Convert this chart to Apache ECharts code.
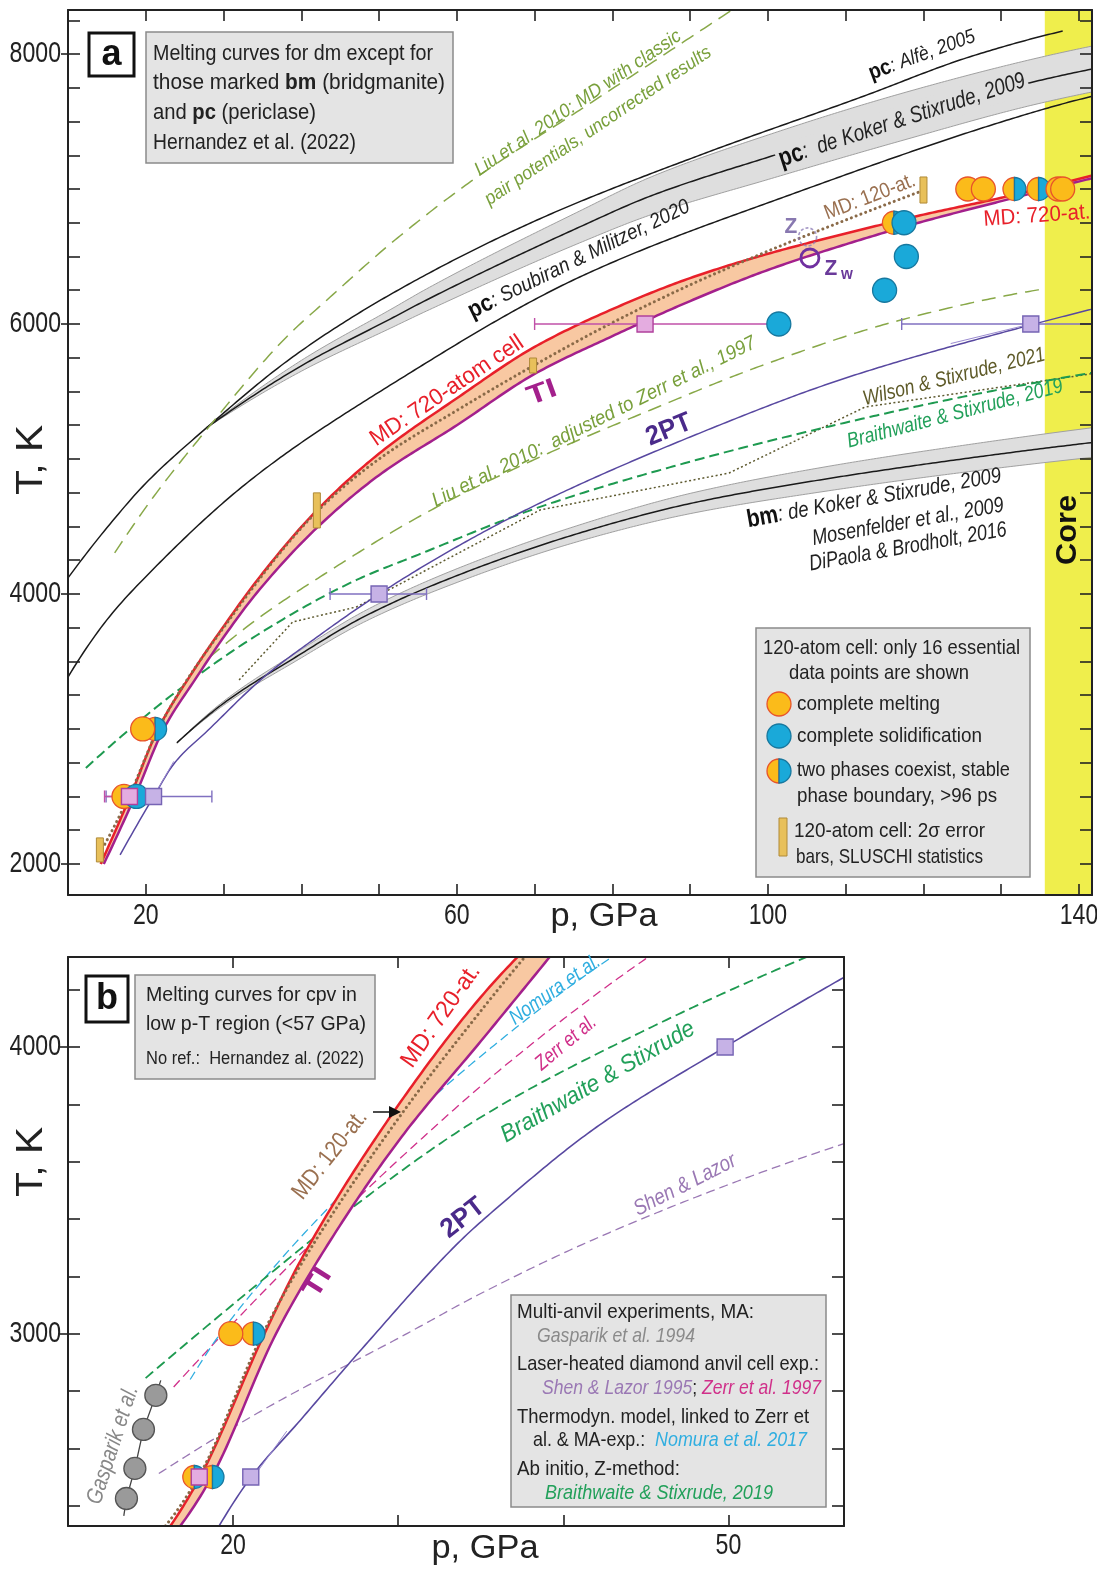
<!DOCTYPE html>
<html><head><meta charset="utf-8">
<script src="https://cdn.jsdelivr.net/npm/echarts@6/dist/echarts.min.js"></script>
<style>html,body{margin:0;padding:0;background:#fff}#c{width:1097px;height:1569px}</style>
</head><body><div id="c"></div>
<script>
// ---------------- axis ranges & ticks ----------------
const A_X_MIN = 10, A_X_MAX = 141.67, A_Y_MIN = 1770, A_Y_MAX = 8326;
const B_X_MIN = 10, B_X_MAX = 57, B_Y_MIN = 2329, B_Y_MAX = 4314;
const A_XTICKS = [20,30,40,50,60,70,80,90,100,110,120,130,140];
const A_XLABELS = [20,60,100,140];
const A_YTICKS = [2000,2250,2500,2750,3000,3250,3500,3750,4000,4250,4500,4750,5000,5250,5500,5750,6000,6250,6500,6750,7000,7250,7500,7750,8000,8250];
const A_YLABELS = [2000,4000,6000,8000];
const B_XTICKS = [20,30,40,50];
const B_XLABELS = [20,50];
const B_YTICKS = [2400,2600,2800,3000,3200,3400,3600,3800,4000,4200];
const B_YLABELS = [3000,4000];
const CORE_P = 135.6;

// ---------------- panel a curves [p (GPa), T (K)] ----------------
const A_ALFE = [[10,4119],[15,4490],[20,4820],[27.8,5230],[38.9,5756],[51.8,6230],[70.7,6780],[91.3,7252],[112,7681],[125.9,7978],[137.9,8170]];
const A_DK_MID = [[27.8,5230],[40,5690],[51.8,6048],[56.1,6178],[75.8,6719],[85,6950],[100.1,7237],[117,7530],[134.1,7793],[142.3,7896]];
const A_DK_UP  = [[27.8,5230],[40,5730],[51.8,6118],[56.1,6260],[75.8,6837],[85,7090],[100.1,7402],[117,7705],[134.1,7963],[142.3,8066]];
const A_DK_LO  = [[27.8,5230],[40,5650],[51.8,5978],[56.1,6096],[75.8,6601],[85,6810],[100.1,7072],[117,7355],[134.1,7623],[142.3,7726]];
const A_SOUB = [[10,3385],[15,3808],[19.6,4104],[33.5,4845],[51.8,5560],[75.8,6348],[102.8,6956],[136.4,7607],[142.3,7696]];
const A_LIU_CLASSIC = [[16,4304],[21,4720],[27.8,5215],[38.1,5904],[43.3,6178],[52,6620],[62.6,7089],[75.8,7585],[96,8350]];
const A_LIU_ADJ = [[26,3420],[34,3800],[42.5,4130],[56,4600],[70.7,5015],[85,5365],[99.1,5690],[117.1,6030],[135.5,6260]];
const A_BRAITH = [[12.3,2711],[24.2,3289],[35,3720],[47.1,4104],[55,4290],[70.7,4645],[90,4980],[109.8,5267],[125,5460],[142.3,5645]];
const A_WILSON = [[32,3363],[38.9,3793],[47.1,3904],[70.7,4622],[95,4896],[112.5,5385],[142.3,5637]];
const A_BM_MID = [[24,2897],[30,3190],[39.3,3533],[48,3830],[58.6,4104],[75.8,4452],[90,4670],[106.7,4845],[125,5000],[142.3,5126]];
const A_BM_UP  = [[24,2897],[30,3205],[39.3,3563],[48,3870],[58.6,4154],[75.8,4512],[90,4745],[106.7,4935],[125,5100],[142.3,5236]];
const A_BM_LO  = [[24,2897],[30,3175],[39.3,3503],[48,3790],[58.6,4054],[75.8,4392],[90,4595],[106.7,4755],[125,4900],[142.3,5016]];
const A_2PT = [[16.7,2067],[21,2497],[23.7,2748],[28,2990],[35.2,3385],[42,3680],[50,4000],[60,4350],[70.7,4674],[90,5163],[110,5600],[133.8,5993],[142.3,6119]];
const A_2PT_B1 = [[21.0,2500],[23.6,2760]];
const A_2PT_B2 = [[123.5,5855],[133.8,6000]];
const A_MD720 = [[14.2,2000],[18,2500],[21.6,3000],[26,3420],[30.5,3800],[34.3,4100],[42,4620],[50,5040],[60,5450],[70,5830],[80,6110],[90,6340],[100,6520],[110,6670],[120,6810],[130,6935],[141.7,7100]];
const A_TI = [[14.6,2000],[18.6,2500],[22.3,3000],[26.5,3380],[30.5,3720],[34.3,4010],[42,4490],[50,4880],[60,5250],[70,5630],[80,5910],[90,6170],[100,6400],[110,6590],[120,6760],[130,6910],[141.7,7080]];
const A_MD120 = [[14.1,2080],[18,2520],[21.6,3000],[30.5,3790],[42,4610],[50,5000],[60,5360],[69.8,5690],[80,6010],[90,6290],[100,6540],[110,6770],[120,6990]];
// panel a points
const A_MELT = [[17.2,2500],[19.6,3000],[125.7,7000],[127.7,7000],[137.3,7000],[137.9,7000]];
const A_TWO = [[21.2,3000],[116.2,6750],[131.7,7000],[134.8,7000]];
const A_SOLID = [[18.8,2500],[101.4,6000],[115.0,6250],[117.8,6500],[117.5,6750]];
const A_SQ_PINK = [[17.9,2500],[84.2,6000]];
const A_SQ_PURPLE = [[21.0,2500],[50.0,4000],[133.8,6000]];
const A_ERR_PINK = [[14.7,21.1,2500],[70.0,101.3,6000]];
const A_ERR_PURPLE = [[14.9,28.5,2500],[43.7,56.1,4000],[117.2,150,6000]];
const A_SLUSCHI = [[14.1,2015,2193],[42.0,4489,4749],[69.8,5637,5748],[120.0,6896,7089]];
const A_Z = [[105.1,6645]];
const A_ZW = [[105.4,6489]];

// ---------------- panel b curves ----------------
const B_MD720 = [[16.2,2329],[18.0,2500],[21.9,3000],[24.1,3256],[29.8,3780],[35,4174],[37.5,4330]];
const B_TI = [[16.8,2329],[18.7,2500],[22.6,3000],[25.9,3326],[30.2,3686],[35,4020],[39.4,4330]];
const B_MD120 = [[15.9,2329],[18.0,2510],[21.8,3000],[24.2,3250],[30,3750],[35.2,4140],[37.9,4330]];
const B_2PT = [[19.15,2329],[21.07,2498],[24.1,2700],[28,2960],[33.8,3326],[35.6,3420],[42,3720],[49.8,4000],[57,4243]];
const B_2PT_B = [[21.3,2505],[23.25,2660]];
const B_BRAITH = [[14.7,2845],[24.7,3325],[26.1,3390],[35,3755],[45,4060],[55,4320]];
const B_NOMURA = [[17.4,2840],[19.1,2990],[22.9,3260],[27,3515],[30.2,3720],[36,4015],[43.1,4320]];
const B_ZERR = [[16.4,2814],[23.9,3267],[30.2,3616],[37,3960],[45.3,4320]];
const B_SHEN = [[15.5,2512],[22,2740],[30.2,2990],[35,3140],[41.5,3320],[50,3520],[57,3663]];
const B_GASP_LINE = [[13.38,2364],[13.54,2425],[14.05,2530],[14.57,2666],[15.32,2785],[15.62,2837]];
const B_GASP = [[13.54,2425],[14.05,2530],[14.57,2666],[15.32,2785]];
const B_MELT = [[19.86,3000]];
const B_TWO = [[17.65,2500],[18.75,2500],[21.23,3000]];
const B_SQ_PINK = [[17.95,2500]];
const B_SQ_PURPLE = [[21.07,2500],[49.8,4000]];

// ---------------- styles ----------------
const FR = "'Liberation Sans', Arial, sans-serif";
const ORANGE = '#fbbb1a', ORANGE_E = '#e8542b', BLUE = '#1aa9d9', BLUE_E = '#17789f';
const RED = '#e8202a', TIC = '#a3208c', BROWN = '#8a6a48', P2 = '#5848a0';
const OLIVE = '#88a848', GREEN = '#1e9a50', WIL = '#5e5a30';
const PINK_F = '#e4ace0', PINK_E = '#b0409c', PUR_F = '#c6b2e6', PUR_E = '#7664b4';
const TAN_F = '#e8c05a', TAN_E = '#b08a38';

// monotone cubic (PCHIP) rendering of a polyline in pixel space
function endSlope(h0, h1, d0, d1) {
  let m = ((2 * h0 + h1) * d0 - h0 * d1) / (h0 + h1);
  if (Math.sign(m) !== Math.sign(d0)) m = 0;
  else if (Math.sign(d0) !== Math.sign(d1) && Math.abs(m) > Math.abs(3 * d0)) m = 3 * d0;
  return m;
}
function pchip(P) {
  const n = P.length;
  if (n < 3) return P.slice();
  const h = [], d = [];
  for (let k = 0; k < n - 1; k++) { h[k] = P[k + 1][0] - P[k][0]; d[k] = (P[k + 1][1] - P[k][1]) / h[k]; }
  const m = new Array(n);
  for (let k = 1; k < n - 1; k++) {
    if (d[k - 1] * d[k] <= 0) m[k] = 0;
    else { const w1 = 2 * h[k] + h[k - 1], w2 = h[k] + 2 * h[k - 1]; m[k] = (w1 + w2) / (w1 / d[k - 1] + w2 / d[k]); }
  }
  m[0] = endSlope(h[0], h[1], d[0], d[1]);
  m[n - 1] = endSlope(h[n - 2], h[n - 3], d[n - 2], d[n - 3]);
  const out = [];
  for (let k = 0; k < n - 1; k++) {
    const steps = Math.max(2, Math.ceil(h[k] / 3));
    for (let s = 0; s < steps; s++) {
      const t = s / steps, t2 = t * t, t3 = t2 * t;
      const y = (2 * t3 - 3 * t2 + 1) * P[k][1] + (t3 - 2 * t2 + t) * h[k] * m[k] + (-2 * t3 + 3 * t2) * P[k + 1][1] + (t3 - t2) * h[k] * m[k + 1];
      out.push([P[k][0] + t * h[k], y]);
    }
  }
  out.push(P[n - 1]);
  return out;
}
function anchorOf(xi) { return xi === 0 ? [30, 5000] : [20, 3000]; }
function curve(data, stroke, width, dash, xi, yi, z, opts) {
  opts = opts || {};
  return {
    type: 'custom', xAxisIndex: xi, yAxisIndex: yi, z, silent: true, clip: true, data: [anchorOf(xi)],
    renderItem: (params, api) => {
      const px = data.map(d => api.coord(d));
      const pts = opts.straight ? px : pchip(px);
      return { type: 'polyline', shape: { points: pts },
        style: { stroke, lineWidth: width, lineDash: dash || null, lineCap: opts.cap || 'butt', lineJoin: 'round', fill: null } };
    }
  };
}
function band(up, lo, fill, stroke, xi, yi, z) {
  return {
    type: 'custom', xAxisIndex: xi, yAxisIndex: yi, z, silent: true, clip: true, data: [anchorOf(xi)],
    renderItem: (params, api) => {
      const u = pchip(up.map(d => api.coord(d)));
      const l = pchip(lo.map(d => api.coord(d)));
      return { type: 'polygon', shape: { points: u.concat(l.reverse()) },
        style: { fill, stroke: stroke || null, lineWidth: 1 } };
    }
  };
}
function scatter(data, symbol, size, fill, stroke, bw, xi, yi, z, extra) {
  return Object.assign({
    type: 'scatter', data, symbol, symbolSize: size, xAxisIndex: xi, yAxisIndex: yi, z, silent: true,
    itemStyle: { color: fill, borderColor: stroke, borderWidth: bw, opacity: 1 }
  }, extra || {});
}
function halves(cx, cy, r) {
  return [
    { type: 'sector', shape: { cx, cy, r, r0: 0, startAngle: Math.PI / 2, endAngle: Math.PI * 1.5, clockwise: true },
      style: { fill: ORANGE, stroke: ORANGE_E, lineWidth: 1.3 } },
    { type: 'sector', shape: { cx, cy, r, r0: 0, startAngle: -Math.PI / 2, endAngle: Math.PI / 2, clockwise: true },
      style: { fill: BLUE, stroke: BLUE_E, lineWidth: 1.3 } }
  ];
}
function twoPhase(data, xi, yi, z) {
  return {
    type: 'custom', xAxisIndex: xi, yAxisIndex: yi, z, silent: true, data, encode: { x: 0, y: 1 },
    renderItem: (params, api) => {
      const c = api.coord([api.value(0), api.value(1)]);
      return { type: 'group', children: halves(c[0], c[1], 11.5) };
    }
  };
}
function errBars(data, color, xi, yi, z) {
  return {
    type: 'custom', xAxisIndex: xi, yAxisIndex: yi, z, silent: true, clip: true, data,
    dimensions: ['lo', 'hi', 't'], encode: { x: [0, 1], y: 2 },
    renderItem: (params, api) => {
      const a = api.coord([api.value(0), api.value(2)]);
      const b = api.coord([api.value(1), api.value(2)]);
      const st = { stroke: color, lineWidth: 1.4 };
      return { type: 'group', children: [
        { type: 'line', shape: { x1: a[0], y1: a[1], x2: b[0], y2: b[1] }, style: st },
        { type: 'line', shape: { x1: a[0], y1: a[1] - 6, x2: a[0], y2: a[1] + 6 }, style: st },
        { type: 'line', shape: { x1: b[0], y1: b[1] - 6, x2: b[0], y2: b[1] + 6 }, style: st }
      ] };
    }
  };
}
function sluschi(data, xi, yi, z) {
  return {
    type: 'custom', xAxisIndex: xi, yAxisIndex: yi, z, silent: true, data,
    dimensions: ['p', 'lo', 'hi'], encode: { x: 0, y: [1, 2] },
    renderItem: (params, api) => {
      const a = api.coord([api.value(0), api.value(2)]);
      const b = api.coord([api.value(0), api.value(1)]);
      return { type: 'rect', shape: { x: a[0] - 3.5, y: a[1], width: 7, height: b[1] - a[1] },
        style: { fill: TAN_F, stroke: TAN_E, lineWidth: 1 } };
    }
  };
}

// ---------------- axes ----------------
const AXL = { color: '#222', width: 2 };
function xAx(grid, pos, min, max, ticks) {
  return {
    type: 'value', gridIndex: grid, position: pos, min, max, z: 20,
    axisLine: { show: true, onZero: false, lineStyle: AXL },
    axisTick: { show: true, inside: true, length: 11, customValues: ticks, lineStyle: { color: '#222', width: 1.6 } },
    axisLabel: { show: false }, splitLine: { show: false }
  };
}
function yAx(grid, pos, min, max, ticks, inside, len, showLine) {
  return {
    type: 'value', gridIndex: grid, position: pos, min, max, z: 20,
    axisLine: { show: showLine, onZero: false, lineStyle: AXL },
    axisTick: { show: true, inside, length: len, customValues: ticks, lineStyle: { color: '#222', width: 1.6 } },
    axisLabel: { show: false }, splitLine: { show: false }
  };
}

// ---------------- series ----------------
const series = [];
series.push({
  type: 'custom', xAxisIndex: 0, yAxisIndex: 0, z: 0, silent: true, clip: true, data: [[CORE_P, 5000]],
  renderItem: (params, api) => {
    const a = api.coord([CORE_P, A_Y_MAX]); const b = api.coord([A_X_MAX, A_Y_MIN]);
    return { type: 'rect', shape: { x: a[0], y: a[1], width: b[0] - a[0], height: b[1] - a[1] }, style: { fill: '#efee4c' } };
  }
});
series.push(band(A_DK_UP, A_DK_LO, '#dedede', '#a0a0a0', 0, 0, 1));
series.push(band(A_BM_UP, A_BM_LO, '#dedede', '#a0a0a0', 0, 0, 1));
series.push(curve(A_ALFE, '#1a1a1a', 1.5, null, 0, 0, 2));
series.push(curve(A_DK_MID, '#1a1a1a', 1.5, null, 0, 0, 2));
series.push(curve(A_SOUB, '#1a1a1a', 1.5, null, 0, 0, 2));
series.push(curve(A_BM_MID, '#1a1a1a', 1.5, null, 0, 0, 2));
series.push(curve(A_LIU_CLASSIC, OLIVE, 1.5, [14, 8], 0, 0, 3));
series.push(curve(A_LIU_ADJ, OLIVE, 1.5, [14, 8], 0, 0, 3));
series.push(curve(A_WILSON, WIL, 1.5, [2, 2.5], 0, 0, 3, { straight: true }));
series.push(curve(A_BRAITH, GREEN, 2, [10, 5], 0, 0, 3));
series.push(curve(A_2PT, P2, 1.5, null, 0, 0, 3));
series.push(curve(A_2PT_B1, '#9a8ad0', 1, null, 0, 0, 3, { straight: true }));
series.push(curve(A_2PT_B2, '#9a8ad0', 1, null, 0, 0, 3, { straight: true }));
series.push(band(A_MD720, A_TI, '#f8c8a2', null, 0, 0, 4));
series.push(curve(A_MD720, RED, 2.5, null, 0, 0, 5));
series.push(curve(A_TI, TIC, 2.5, null, 0, 0, 5));
series.push(curve(A_MD120, BROWN, 3, [0.1, 5], 0, 0, 6, { cap: 'round' }));
series.push(errBars(A_ERR_PURPLE, '#8070c0', 0, 0, 7));
series.push(errBars(A_ERR_PINK, '#c050a8', 0, 0, 7));
series.push(sluschi(A_SLUSCHI, 0, 0, 8));
series.push(scatter(A_MELT, 'circle', 24, ORANGE, ORANGE_E, 1.3, 0, 0, 9));
series.push(twoPhase(A_TWO, 0, 0, 9));
series.push(scatter(A_SOLID, 'circle', 24, BLUE, BLUE_E, 1.3, 0, 0, 9));
series.push(scatter(A_SQ_PINK, 'rect', 16, PINK_F, PINK_E, 1.4, 0, 0, 10));
series.push(scatter(A_SQ_PURPLE, 'rect', 16, PUR_F, PUR_E, 1.4, 0, 0, 10));
series.push(scatter(A_Z, 'circle', 18, 'rgba(0,0,0,0)', '#9080b8', 1.6, 0, 0, 10,
  { itemStyle: { color: 'rgba(0,0,0,0)', borderColor: '#9080b8', borderWidth: 1.6, borderType: [3, 2] } }));
series.push(scatter(A_ZW, 'circle', 18, 'rgba(0,0,0,0)', '#7030a0', 2.8, 0, 0, 10));

// panel b
series.push(curve(B_SHEN, '#9a78b4', 1.3, [9, 5], 2, 3, 3));
series.push(curve(B_ZERR, '#d0308a', 1.3, [9, 5], 2, 3, 3));
series.push(curve(B_NOMURA, '#30aee0', 1.3, [9, 5], 2, 3, 3));
series.push(curve(B_BRAITH, GREEN, 1.8, [10, 5], 2, 3, 3));
series.push(curve(B_2PT, P2, 1.6, null, 2, 3, 3));
series.push(curve(B_2PT_B, '#9a8ad0', 1, null, 2, 3, 3, { straight: true }));
series.push(band(B_MD720, B_TI, '#f8c8a2', null, 2, 3, 4));
series.push(curve(B_MD720, RED, 2.5, null, 2, 3, 5));
series.push(curve(B_TI, TIC, 2.5, null, 2, 3, 5));
series.push(curve(B_MD120, BROWN, 3, [0.1, 5], 2, 3, 6, { cap: 'round' }));
series.push(curve(B_GASP_LINE, '#444', 1.3, null, 2, 3, 6, { straight: true }));
series.push(scatter(B_GASP, 'circle', 22, '#9a9a9a', '#555', 1.3, 2, 3, 9));
series.push(scatter(B_MELT, 'circle', 24, ORANGE, ORANGE_E, 1.3, 2, 3, 9));
series.push(twoPhase(B_TWO, 2, 3, 9));
series.push(scatter(B_SQ_PINK, 'rect', 16, PINK_F, PINK_E, 1.4, 2, 3, 10));
series.push(scatter(B_SQ_PURPLE, 'rect', 16, PUR_F, PUR_E, 1.4, 2, 3, 10));

// ---------------- annotations ----------------
const MC = document.createElement('canvas').getContext('2d');
function fontStr(s) { return (s.italic ? 'italic ' : 'normal ') + (s.bold ? 'bold ' : 'normal ') + s.size + 'px ' + (s.family || FR); }
function label(x, y, rot, segs, o) {
  o = o || {};
  let text = '', total = 0; const rich = {};
  segs.forEach((s, i) => {
    const key = 's' + i;
    rich[key] = { fontSize: s.size, fontFamily: s.family || FR, fontWeight: s.bold ? 'bold' : 'normal',
      fontStyle: s.italic ? 'italic' : 'normal', fill: s.color || '#222' };
    text += '{' + key + '|' + s.t + '}';
    MC.font = fontStr(s); total += MC.measureText(s.t).width;
  });
  const sx = o.w ? o.w / total : (o.sx || 1);
  const st = { text, rich, align: o.align || 'center', verticalAlign: 'middle' };
  if (o.bg) { st.backgroundColor = o.bg; st.padding = [1, 3]; }
  return { type: 'text', x, y, rotation: rot * Math.PI / 180, scaleX: sx, z: 100, silent: true, style: st };
}
function T1(x, y, rot, t, size, w, o) {
  o = o || {};
  return label(x, y, rot, [{ t, size, bold: o.bold, italic: o.italic, color: o.color }], { w, align: o.align, sx: o.sx, bg: o.bg });
}
function box(x, y, w, h) {
  return { type: 'rect', z: 99, silent: true, shape: { x, y, width: w, height: h }, style: { fill: '#e4e4e4', stroke: '#8a8a8a', lineWidth: 1.5 } };
}
const g = [];
g.push({ type: 'rect', z: 99, silent: true, shape: { x: 89, y: 33, width: 45, height: 43 }, style: { fill: '#fff', stroke: '#111', lineWidth: 3 } });
g.push(T1(111.5, 55, 0, 'a', 36, null, { bold: true, color: '#111' }));
g.push(box(146, 32, 307, 131));
g.push(T1(153, 54, 0, 'Melting curves for dm except for', 22, 280, { align: 'left' }));
g.push(label(153, 83, 0, [{ t: 'those marked ', size: 22 }, { t: 'bm', size: 22, bold: true }, { t: ' (bridgmanite)', size: 22 }], { w: 292, align: 'left' }));
g.push(label(153, 113, 0, [{ t: 'and ', size: 22 }, { t: 'pc', size: 22, bold: true }, { t: ' (periclase)', size: 22 }], { w: 163, align: 'left' }));
g.push(T1(153, 143, 0, 'Hernandez et al. (2022)', 22, 203, { align: 'left' }));
g.push(label(922, 55, 20, [{ t: 'pc', size: 22, bold: true, color: '#111' }, { t: ': Alfè, 2005', size: 20, italic: true }], { w: 112 }));
g.push(label(902, 120, 18, [{ t: 'pc', size: 26, bold: true, color: '#111' }, { t: ':  de Koker & Stixrude, 2009', size: 23, italic: true }], { w: 258, bg: '#dedede' }));
g.push(label(579, 259, 26, [{ t: 'pc', size: 24, bold: true, color: '#111' }, { t: ': Soubiran & Militzer, 2020', size: 21, italic: true }], { w: 244 }));
g.push(T1(578, 103, 34, 'Liu et al. 2010: MD with classic', 19, 245, { italic: true, color: '#79a03c' }));
g.push(T1(598, 126, 34, 'pair potentials, uncorrected results', 19, 269, { italic: true, color: '#79a03c' }));
g.push(T1(447, 391, 34, 'MD: 720-atom cell', 23, 180, { color: RED }));
g.push(T1(542, 393, 20, 'TI', 27, 30, { bold: true, color: TIC }));
g.push(T1(594, 422, 26.5, 'Liu et al. 2010:  adjusted to Zerr et al., 1997', 20, 359, { italic: true, color: '#79a03c' }));
g.push(T1(669, 430, 22, '2PT', 27, 47, { bold: true, color: '#4a2a8a' }));
g.push(T1(954, 377, 14, 'Wilson & Stixrude, 2021', 21, 187, { italic: true, color: '#5e5a28' }));
g.push(T1(955, 414, 14.7, 'Braithwaite & Stixrude, 2019', 21, 222, { italic: true, color: '#22a05a' }));
g.push(label(874, 498, 10, [{ t: 'bm', size: 25, bold: true, color: '#111' }, { t: ': de Koker & Stixrude, 2009', size: 22, italic: true }], { w: 258 }));
g.push(T1(908, 522, 10, 'Mosenfelder et al., 2009', 22, 194, { italic: true }));
g.push(T1(908, 547, 10, 'DiPaola & Brodholt, 2016', 22, 200, { italic: true }));
g.push(T1(870, 197, 21, 'MD: 120-at.', 21, 96, { color: '#9a7050' }));
g.push(T1(791, 227, 0, 'Z', 22, null, { bold: true, color: '#8878b0', sx: 0.95 }));
g.push(T1(831, 269, 0, 'Z', 22, null, { bold: true, color: '#6a3a9a', sx: 0.95 }));
g.push(T1(847, 275, 0, 'w', 16, null, { bold: true, color: '#6a3a9a', sx: 0.95 }));
g.push(T1(1037, 216, 4, 'MD: 720-at.', 22, 107, { color: RED }));
g.push(T1(1068, 530, 90, 'Core', 30, 70, { bold: true, color: '#111' }));
g.push(T1(604, 917, 0, 'p, GPa', 34, 107, { color: '#222' }));
g.push(T1(32, 460, 90, 'T, K', 36, 70, { color: '#222' }));
const LW = { align: 'left' };
g.push(box(756, 628, 274, 249));
g.push(T1(763, 648, 0, '120-atom cell: only 16 essential', 21, 257, LW));
g.push(T1(789, 673, 0, 'data points are shown', 21, 180, LW));
g.push({ type: 'circle', z: 101, silent: true, shape: { cx: 779, cy: 704, r: 12 }, style: { fill: ORANGE, stroke: ORANGE_E, lineWidth: 1.3 } });
g.push(T1(797, 704, 0, 'complete melting', 21, 143, LW));
g.push({ type: 'circle', z: 101, silent: true, shape: { cx: 779, cy: 736, r: 12 }, style: { fill: BLUE, stroke: BLUE_E, lineWidth: 1.3 } });
g.push(T1(797, 736, 0, 'complete solidification', 21, 185, LW));
halves(779, 771, 12).forEach(e => { e.z = 101; e.silent = true; g.push(e); });
g.push(T1(797, 770, 0, 'two phases coexist, stable', 21, 213, LW));
g.push(T1(797, 796, 0, 'phase boundary, >96 ps', 21, 200, LW));
g.push({ type: 'rect', z: 101, silent: true, shape: { x: 779, y: 818, width: 8, height: 38 }, style: { fill: TAN_F, stroke: TAN_E, lineWidth: 1 } });
g.push(T1(794, 831, 0, '120-atom cell: 2σ error', 21, 191, LW));
g.push(T1(796, 857, 0, 'bars, SLUSCHI statistics', 21, 187, LW));

g.push({ type: 'rect', z: 99, silent: true, shape: { x: 86, y: 976, width: 42, height: 46 }, style: { fill: '#fff', stroke: '#111', lineWidth: 3 } });
g.push(T1(107, 999, 0, 'b', 36, null, { bold: true, color: '#111' }));
g.push(box(135, 975, 240, 104));
g.push(T1(146, 995, 0, 'Melting curves for cpv in', 21, 211, LW));
g.push(T1(146, 1024, 0, 'low p-T region (<57 GPa)', 21, 220, LW));
g.push(T1(146, 1059, 0, 'No ref.:  Hernandez al. (2022)', 18, 218, LW));
g.push(T1(441, 1016, 55, 'MD: 720-at.', 24, 120, { color: RED }));
g.push(T1(330, 1155, 52, 'MD: 120-at.', 24, 106, { color: '#9a7050' }));
g.push({ type: 'line', z: 101, silent: true, shape: { x1: 373, y1: 1112, x2: 392, y2: 1112 }, style: { stroke: '#111', lineWidth: 1.5 } });
g.push({ type: 'polygon', z: 101, silent: true, shape: { points: [[401, 1112], [389, 1106], [389, 1118]] }, style: { fill: '#111' } });
g.push(T1(318, 1283, 58, 'TI', 27, 30, { bold: true, color: TIC }));
g.push(T1(555, 990, 35, 'Nomura et al.', 21, 106, { italic: true, color: '#30aee0' }));
g.push(T1(566, 1043, 40, 'Zerr et al.', 21, 73, { italic: true, color: '#d0308a' }));
g.push(T1(598, 1082, 30, 'Braithwaite & Stixrude', 24, 220, { italic: true, color: '#22a05a' }));
g.push(T1(463, 1218, 38, '2PT', 27, 48, { bold: true, color: '#4a2a8a' }));
g.push(T1(685, 1185, 27, 'Shen & Lazor', 22, 112, { italic: true, color: '#9a78b4' }));
g.push(T1(113, 1445, 72, 'Gasparik et al.', 23, 123, { italic: true, color: '#888' }));
g.push(T1(485, 1549, 0, 'p, GPa', 34, 107, { color: '#222' }));
g.push(T1(32, 1162, 90, 'T, K', 36, 70, { color: '#222' }));
g.push(box(511, 1295, 315, 212));
g.push(T1(517, 1312, 0, 'Multi-anvil experiments, MA:', 21, 237, LW));
g.push(T1(537, 1336, 0, 'Gasparik et al. 1994', 21, 158, { align: 'left', italic: true, color: '#8a8a8a' }));
g.push(T1(517, 1364, 0, 'Laser-heated diamond anvil cell exp.:', 21, 302, LW));
g.push(label(542, 1388, 0, [{ t: 'Shen & Lazor 1995', size: 21, italic: true, color: '#9a78b4' }, { t: '; ', size: 21 }, { t: 'Zerr et al. 1997', size: 21, italic: true, color: '#d0308a' }], { w: 279, align: 'left' }));
g.push(T1(517, 1417, 0, 'Thermodyn. model, linked to Zerr et', 21, 292, LW));
g.push(label(533, 1440, 0, [{ t: 'al. & MA-exp.:  ', size: 21 }, { t: 'Nomura et al. 2017', size: 21, italic: true, color: '#30aee0' }], { w: 274, align: 'left' }));
g.push(T1(517, 1469, 0, 'Ab initio, Z-method:', 21, 163, LW));
g.push(T1(545, 1493, 0, 'Braithwaite & Stixrude, 2019', 21, 228, { align: 'left', italic: true, color: '#22a05a' }));

const option = {
  animation: false,
  backgroundColor: '#fff',
  grid: [
    { left: 68, top: 10, width: 1024, height: 885, containLabel: false, outerBoundsMode: 'none' },
    { left: 68, top: 957, width: 776, height: 569, containLabel: false, outerBoundsMode: 'none' }
  ],
  xAxis: [
    xAx(0, 'bottom', A_X_MIN, A_X_MAX, A_XTICKS),
    xAx(0, 'top', A_X_MIN, A_X_MAX, A_XTICKS),
    xAx(1, 'bottom', B_X_MIN, B_X_MAX, B_XTICKS),
    xAx(1, 'top', B_X_MIN, B_X_MAX, B_XTICKS)
  ],
  yAxis: [
    yAx(0, 'left', A_Y_MIN, A_Y_MAX, A_YLABELS, false, 7, true),
    yAx(0, 'left', A_Y_MIN, A_Y_MAX, A_YTICKS, true, 12, false),
    yAx(0, 'right', A_Y_MIN, A_Y_MAX, A_YTICKS, true, 12, true),
    yAx(1, 'left', B_Y_MIN, B_Y_MAX, B_YLABELS, false, 8, true),
    yAx(1, 'left', B_Y_MIN, B_Y_MAX, B_YTICKS, true, 12, false),
    yAx(1, 'right', B_Y_MIN, B_Y_MAX, B_YTICKS, true, 12, true)
  ],
  series
};
const chart = echarts.init(document.getElementById('c'), null, { renderer: 'canvas' });
chart.setOption(option);

// tick labels (condensed look), positioned through the axes' own scales
const TL = { size: 30, sx: 0.77 };
function tickLab(x, y, v, align) {
  return T1(x, y, 0, String(v), TL.size, null, { sx: TL.sx, align: align, color: '#222' });
}
A_XLABELS.forEach(v => g.push(tickLab(chart.convertToPixel({ xAxisIndex: 0 }, v), 916, v, 'center')));
A_YLABELS.forEach(v => g.push(tickLab(61, chart.convertToPixel({ yAxisIndex: 0 }, v), v, 'right')));
B_XLABELS.forEach(v => g.push(tickLab(chart.convertToPixel({ xAxisIndex: 2 }, v), 1546, v, 'center')));
B_YLABELS.forEach(v => g.push(tickLab(61, chart.convertToPixel({ yAxisIndex: 3 }, v), v, 'right')));
chart.setOption({ graphic: { elements: g } });
</script></body></html>
